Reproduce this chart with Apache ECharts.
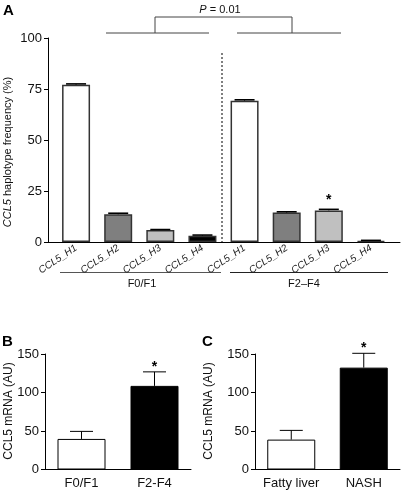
<!DOCTYPE html>
<html><head><meta charset="utf-8">
<script src="https://cdn.jsdelivr.net/npm/echarts@6/dist/echarts.min.js"></script>
<style>html,body{margin:0;padding:0;background:#fff}#c{width:407px;height:493px}</style>
</head><body><div id="c"></div>
<script>
// ---- data ----
const aCategories = ['CCL5_H1','CCL5_H2','CCL5_H3','CCL5_H4','CCL5_H1','CCL5_H2','CCL5_H3','CCL5_H4'];
const aValues = [77.1, 13.6, 5.9, 3.1, 69.3, 14.4, 15.5, 0.5];
const aErrors = [0.4, 0.5, 0.2, 0.3, 0.4, 0.4, 0.5, 0.3];
const aSig = [0, 0, 0, 0, 0, 0, 1, 0];
const aGroups = ['F0/F1', 'F2–F4'];
const aYTicks = [0, 25, 50, 75, 100];
const bCategories = ['F0/F1', 'F2-F4'];
const bValues = [39.7, 108.6];
const bErrors = [9.8, 18.2];
const bSig = [0, 1];
const cCategories = ['Fatty liver', 'NASH'];
const cValues = [38.8, 132.3];
const cErrors = [12.0, 18.6];
const cSig = [0, 1];
const bcYTicks = [0, 50, 100, 150];
const pText = '{i|P} = 0.01';

// ---- styles ----
const FONT = 'Liberation Sans, Arial, sans-serif';
const aFills = ['#ffffff', '#7f7f7f', '#c0c0c0', '#000000'];
const bcFills = ['#ffffff', '#000000'];

function errRender(capW, capLW, starGap) {
  return function (params, api) {
    const i = api.value(0), v = api.value(1), e = api.value(2), s = api.value(3);
    const p0 = api.coord([i, v]);
    const p1 = api.coord([i, v + e]);
    const ch = [
      { type: 'line', shape: { x1: p0[0], y1: p0[1], x2: p1[0], y2: p1[1] }, style: { stroke: '#000', lineWidth: 1 } },
      { type: 'line', shape: { x1: p1[0] - capW / 2, y1: p1[1], x2: p1[0] + capW / 2, y2: p1[1] }, style: { stroke: '#000', lineWidth: capLW } }
    ];
    if (s) ch.push({ type: 'text', style: { text: '*', x: p1[0], y: p1[1] - starGap, align: 'center', verticalAlign: 'middle', fontSize: 14, fontWeight: 'bold', fontFamily: FONT, fill: '#000' } });
    return { type: 'group', children: ch };
  };
}
const toErr = (vals, errs, sig) => vals.map((v, i) => [i, v, errs[i], sig[i]]);

const chart = echarts.init(document.getElementById('c'), null, { renderer: 'canvas' });

const yAxisCommon = {
  type: 'value', axisLine: { show: true, lineStyle: { color: '#000', width: 1 } },
  axisTick: { show: true, length: 4, lineStyle: { color: '#000' } },
  axisLabel: { fontSize: 13, color: '#111', fontFamily: FONT, margin: 6 },
  splitLine: { show: false }
};

const option = {
  animation: false,
  backgroundColor: '#fff',
  grid: [
    { left: 55, width: 337, top: 38, height: 204 },
    { left: 48, width: 352, top: 38, height: 204 },
    { left: 45, width: 146, top: 354, height: 115.5 },
    { left: 255, width: 145, top: 354, height: 115.5 }
  ],
  xAxis: [
    { type: 'category', gridIndex: 0, data: aCategories, axisLine: { show: false }, axisTick: { show: false },
      axisLabel: { interval: 0, rotate: 34, fontSize: 10, fontStyle: 'italic', color: '#222', fontFamily: FONT, margin: 5 } },
    { type: 'value', gridIndex: 1, min: 0, max: 1, axisLine: { show: true, lineStyle: { color: '#000', width: 1 } },
      axisTick: { show: false }, axisLabel: { show: false }, splitLine: { show: false } },
    { type: 'category', gridIndex: 2, data: bCategories, axisLine: { show: true, lineStyle: { color: '#000', width: 1 } },
      axisTick: { show: false }, axisLabel: { interval: 0, fontSize: 13, color: '#111', fontFamily: FONT, margin: 7 } },
    { type: 'category', gridIndex: 3, data: cCategories, axisLine: { show: true, lineStyle: { color: '#000', width: 1 } },
      axisTick: { show: false }, axisLabel: { interval: 0, fontSize: 13, color: '#111', fontFamily: FONT, margin: 7 } }
  ],
  yAxis: [
    { type: 'value', gridIndex: 0, min: 0, max: 100, show: false },
    Object.assign({}, yAxisCommon, { gridIndex: 1, min: aYTicks[0], max: aYTicks[aYTicks.length - 1], interval: aYTicks[1] - aYTicks[0] }),
    Object.assign({}, yAxisCommon, { gridIndex: 2, min: bcYTicks[0], max: bcYTicks[bcYTicks.length - 1], interval: bcYTicks[1] - bcYTicks[0] }),
    Object.assign({}, yAxisCommon, { gridIndex: 3, min: bcYTicks[0], max: bcYTicks[bcYTicks.length - 1], interval: bcYTicks[1] - bcYTicks[0] })
  ],
  series: [
    { type: 'bar', xAxisIndex: 0, yAxisIndex: 0, barWidth: 28,
      data: aValues.map((v, i) => ({ value: v, itemStyle: { color: aFills[i % 4] } })),
      itemStyle: { borderColor: '#333', borderWidth: 1.5 } },
    { type: 'custom', xAxisIndex: 0, yAxisIndex: 0, renderItem: errRender(20, 1.6, 9), data: toErr(aValues, aErrors, aSig), encode: { x: 0, y: 1 }, z: 5 },
    { type: 'bar', xAxisIndex: 2, yAxisIndex: 2, barWidth: 48,
      data: bValues.map((v, i) => ({ value: v, itemStyle: { color: bcFills[i] } })),
      itemStyle: { borderColor: '#000', borderWidth: 1 } },
    { type: 'custom', xAxisIndex: 2, yAxisIndex: 2, renderItem: errRender(23, 1, 5), data: toErr(bValues, bErrors, bSig), encode: { x: 0, y: 1 }, z: 1 },
    { type: 'bar', xAxisIndex: 3, yAxisIndex: 3, barWidth: 48,
      data: cValues.map((v, i) => ({ value: v, itemStyle: { color: bcFills[i] } })),
      itemStyle: { borderColor: '#000', borderWidth: 1 } },
    { type: 'custom', xAxisIndex: 3, yAxisIndex: 3, renderItem: errRender(23, 1, 5), data: toErr(cValues, cErrors, cSig), encode: { x: 0, y: 1 }, z: 1 }
  ],
  graphic: [
    { type: 'text', left: 3, top: 3, style: { text: 'A', fontSize: 15, fontWeight: 'bold', fontFamily: FONT, fill: '#000' } },
    { type: 'text', left: 2, top: 334, style: { text: 'B', fontSize: 15, fontWeight: 'bold', fontFamily: FONT, fill: '#000' } },
    { type: 'text', left: 202, top: 334, style: { text: 'C', fontSize: 15, fontWeight: 'bold', fontFamily: FONT, fill: '#000' } },
    { type: 'text', x: 8, y: 152, rotation: Math.PI / 2,
      style: { text: '{i|CCL5} haplotype frequency (%)', x: 0, y: 0, align: 'center', verticalAlign: 'middle', fontSize: 11, fontFamily: FONT, fill: '#111',
        rich: { i: { fontStyle: 'italic', fontSize: 11, fontFamily: FONT, fill: '#111' } } } },
    { type: 'text', x: 9, y: 411, rotation: Math.PI / 2,
      style: { text: 'CCL5 mRNA (AU)', x: 0, y: 0, align: 'center', verticalAlign: 'middle', fontSize: 12, fontFamily: FONT, fill: '#111' } },
    { type: 'text', x: 209, y: 411, rotation: Math.PI / 2,
      style: { text: 'CCL5 mRNA (AU)', x: 0, y: 0, align: 'center', verticalAlign: 'middle', fontSize: 12, fontFamily: FONT, fill: '#111' } },
    { type: 'text', x: 220, y: 10,
      style: { text: pText, x: 0, y: 0, align: 'center', verticalAlign: 'middle', fontSize: 11, fontFamily: FONT, fill: '#111',
        rich: { i: { fontStyle: 'italic', fontSize: 11, fontFamily: FONT, fill: '#111' } } } },
    { type: 'polyline', shape: { points: [[155, 33], [155, 17], [292, 17], [292, 33]] }, style: { stroke: '#444', lineWidth: 1, fill: null } },
    { type: 'line', shape: { x1: 106, y1: 33, x2: 209, y2: 33 }, style: { stroke: '#444', lineWidth: 1 } },
    { type: 'line', shape: { x1: 237, y1: 33, x2: 341, y2: 33 }, style: { stroke: '#444', lineWidth: 1 } },
    { type: 'line', shape: { x1: 222, y1: 53, x2: 222, y2: 242 }, style: { stroke: '#000', lineWidth: 1, lineDash: [2, 2] } },
    { type: 'line', shape: { x1: 60, y1: 272.5, x2: 221, y2: 272.5 }, style: { stroke: '#555', lineWidth: 1 } },
    { type: 'line', shape: { x1: 230, y1: 272.5, x2: 388, y2: 272.5 }, style: { stroke: '#222', lineWidth: 1 } },
    { type: 'text', x: 142, y: 284, style: { text: aGroups[0], x: 0, y: 0, align: 'center', verticalAlign: 'middle', fontSize: 11, fontFamily: FONT, fill: '#111' } },
    { type: 'text', x: 304, y: 284, style: { text: aGroups[1], x: 0, y: 0, align: 'center', verticalAlign: 'middle', fontSize: 11, fontFamily: FONT, fill: '#111' } }
  ]
};
chart.setOption(option);
</script>
</body></html>
